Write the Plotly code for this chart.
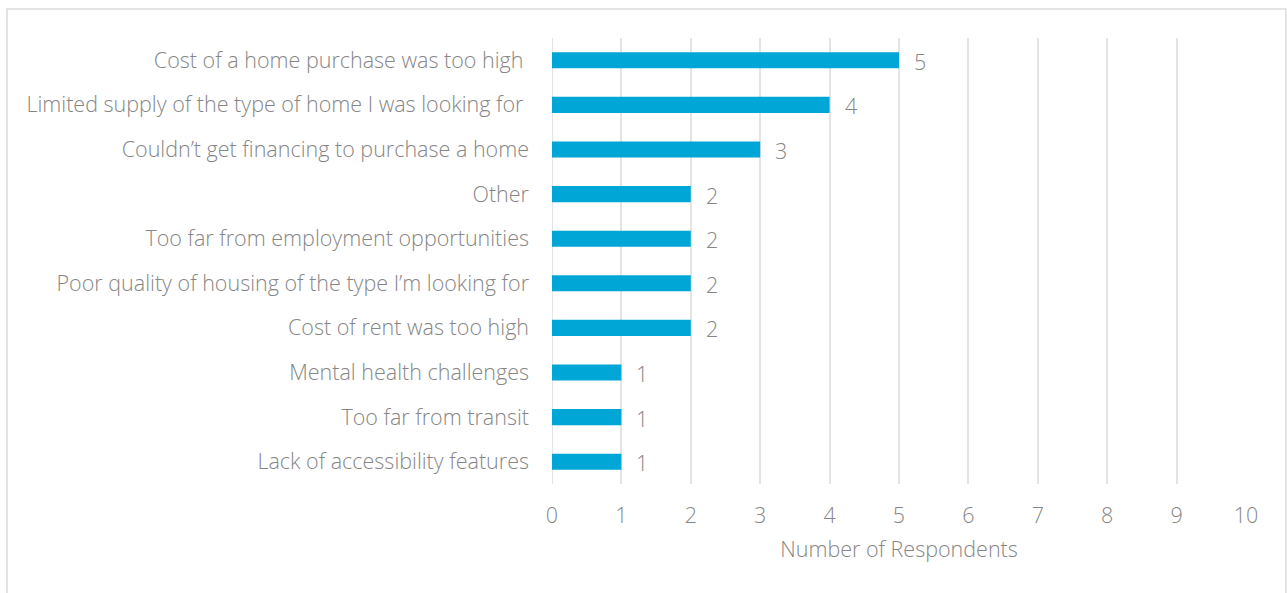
import plotly.graph_objects as go

# Survey responses: reasons for housing difficulty
categories = [
    "Cost of a home purchase was too high\u00a0",
    "Limited supply of the type of home I was looking for\u00a0",
    "Couldn\u2019t get financing to purchase a home",
    "Other",
    "Too far from employment opportunities",
    "Poor quality of housing of the type I\u2019m looking for",
    "Cost of rent was too high",
    "Mental health challenges",
    "Too far from transit",
    "Lack of accessibility features",
]
respondents = [5, 4, 3, 2, 2, 2, 2, 1, 1, 1]
x_ticks = list(range(0, 11))

BAR_COLOR = "#00A6D6"
TEXT_COLOR = "#868686"
GRID_COLOR = "#E4E4E4"
FRAME_COLOR = "#DCDCDC"
FONT = "Open Sans, Segoe UI, sans-serif"
FSIZE = 21.5

fig = go.Figure()
fig.add_trace(go.Bar(
    x=respondents,
    y=categories,
    orientation="h",
    width=0.36,
    marker=dict(color=BAR_COLOR, line=dict(width=0)),
    hoverinfo="x+y",
))

# value labels to the right of each bar
for cat, val in zip(categories, respondents):
    fig.add_annotation(
        x=val, y=cat, text=str(val), showarrow=False,
        xanchor="left", xshift=13, yshift=-1,
        font=dict(family=FONT, size=FSIZE, color=TEXT_COLOR, weight=300),
    )

# light frame around the whole chart
fig.add_shape(
    type="rect", xref="paper", yref="paper",
    x0=-0.7853, x1=1.0576, y0=-0.30, y1=1.0650,
    line=dict(color=FRAME_COLOR, width=1.5), layer="below",
)

fig.update_layout(
    width=1287, height=593,
    margin=dict(l=552, r=41, t=38, b=109),
    plot_bgcolor="white", paper_bgcolor="white",
    showlegend=False,
    font=dict(family=FONT, color=TEXT_COLOR, size=FSIZE, weight=300),
    xaxis=dict(
        range=[0, 10], tickvals=x_ticks, showgrid=True, gridcolor=GRID_COLOR,
        gridwidth=2, zeroline=False, showline=False, ticks="",
        ticklabelstandoff=16,
        tickfont=dict(family=FONT, size=FSIZE, color=TEXT_COLOR, weight=300),
        title=dict(text="Number of Respondents", standoff=14,
                   font=dict(family=FONT, size=FSIZE, color=TEXT_COLOR, weight=300)),
        fixedrange=True,
    ),
    yaxis=dict(
        categoryorder="array", categoryarray=categories[::-1],
        range=[-0.5, 9.5], showgrid=False, zeroline=False, showline=False,
        ticks="", ticklabelstandoff=22,
        tickfont=dict(family=FONT, size=FSIZE, color=TEXT_COLOR, weight=300),
        fixedrange=True,
    ),
)

# gridline at zero drawn like the other gridlines
fig.add_shape(
    type="line", xref="x", yref="paper", x0=0, x1=0, y0=0, y1=1,
    line=dict(color=GRID_COLOR, width=2), layer="below",
)

fig.write_html("out.html")
